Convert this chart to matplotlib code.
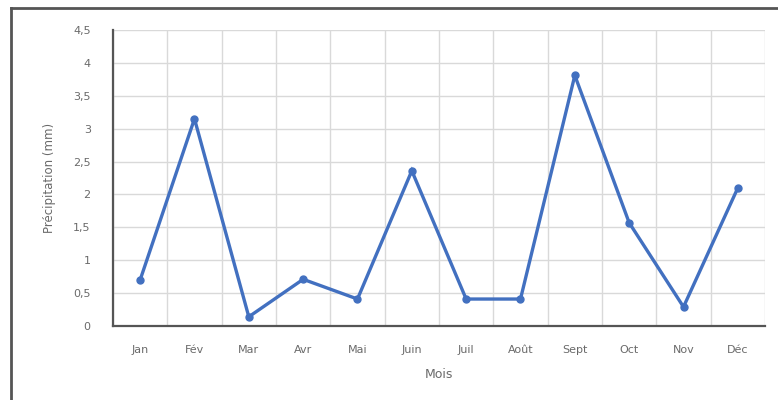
import matplotlib
matplotlib.use("Agg")
import matplotlib.pyplot as plt
from matplotlib.lines import Line2D
from matplotlib.ticker import MultipleLocator, FuncFormatter

# Précipitations mensuelles
mois = ["Jan", "Fév", "Mar", "Avr", "Mai", "Juin", "Juil", "Août", "Sept", "Oct", "Nov", "Déc"]
precip = [0.70, 3.15, 0.14, 0.71, 0.41, 2.36, 0.41, 0.41, 3.81, 1.57, 0.29, 2.10]

fig = plt.figure(figsize=(7.78, 4), dpi=100)
fig.patch.set_facecolor("white")
ax = fig.add_axes([0.1452, 0.185, 0.8381, 0.74])

x = list(range(len(mois)))
ax.plot(x, precip, color="#4270C0", linewidth=2.4, marker="o", markersize=5,
        solid_joinstyle="miter", zorder=3)

ax.set_xlim(-0.5, len(mois) - 0.5)
ax.set_ylim(0, 4.5)
ax.yaxis.set_major_locator(MultipleLocator(0.5))
ax.yaxis.set_major_formatter(FuncFormatter(lambda v, p: ("%g" % v).replace(".", ",")))
ax.set_xticks(x)
ax.set_xticklabels(mois)

# grille verticale entre les catégories
ax.set_xticks([i + 0.5 for i in range(-1, len(mois))], minor=True)
ax.grid(True, which="minor", axis="x", color="#d9d9d9", linewidth=1)
ax.grid(True, which="major", axis="y", color="#d9d9d9", linewidth=1)
ax.set_axisbelow(True)

ax.tick_params(which="both", length=0)
ax.tick_params(axis="y", pad=16, labelsize=8, labelcolor="#6a6a6a")
ax.tick_params(axis="x", pad=14, labelsize=8, labelcolor="#6a6a6a")

for s in ["top", "right"]:
    ax.spines[s].set_visible(False)
ax.spines["left"].set_color("#555555")
ax.spines["left"].set_linewidth(1.6)
ax.spines["bottom"].set_color("#555555")
ax.spines["bottom"].set_linewidth(1.6)

ax.set_xlabel("Mois", fontsize=9, color="#6a6a6a", labelpad=9)
ax.set_ylabel("Précipitation (mm)", fontsize=8.5, color="#6a6a6a", labelpad=12)

# cadre de l'image (gauche et haut)
fig.add_artist(Line2D([0.0141, 0.0141], [0, 0.98], transform=fig.transFigure,
                      color="#555555", linewidth=2))
fig.add_artist(Line2D([0.0141, 1], [0.979, 0.979], transform=fig.transFigure,
                      color="#555555", linewidth=2))

fig.savefig("out.png", dpi=100)
